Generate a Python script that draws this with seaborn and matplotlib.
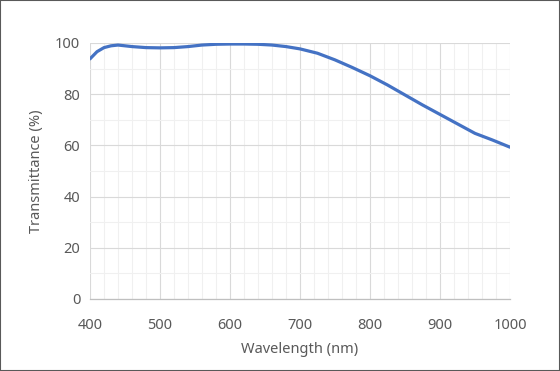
import numpy as np
import pandas as pd
import matplotlib
matplotlib.use("Agg")
import matplotlib.pyplot as plt
import seaborn as sns
from matplotlib.ticker import MultipleLocator
from matplotlib.patches import Rectangle

# valores
wavelength = [400, 410, 420, 430, 440, 450, 460, 480, 500, 520, 540, 560, 580, 600,
              620, 640, 660, 680, 700, 725, 750, 775, 800, 825, 850, 875, 900,
              925, 950, 975, 1000]
transmittance = [93.8, 96.6, 98.2, 98.9, 99.2, 98.9, 98.6, 98.2, 98.1, 98.2, 98.6, 99.2, 99.5, 99.6,
                 99.6, 99.5, 99.2, 98.6, 97.7, 96.0, 93.4, 90.4, 87.2, 83.6, 79.7, 75.8, 72.1,
                 68.4, 64.7, 62.1, 59.3]

sns.set_theme(style="white")
plt.rcParams["font.family"] = ["Noto Sans", "DejaVu Sans"]

df = pd.DataFrame({"wl": wavelength, "t": transmittance})

fig = plt.figure(figsize=(5.6, 3.71), dpi=100)
ax = fig.add_axes([90 / 560, 72 / 371, 420 / 560, 256 / 371])
sns.lineplot(data=df, x="wl", y="t", color="#4472C4", linewidth=2.3, ax=ax)

ax.set_xlim(400, 1000); ax.set_ylim(0, 100)
ax.xaxis.set_major_locator(MultipleLocator(100)); ax.xaxis.set_minor_locator(MultipleLocator(20))
ax.yaxis.set_major_locator(MultipleLocator(20)); ax.yaxis.set_minor_locator(MultipleLocator(10))
ax.grid(which="major", color="#d9d9d9", linewidth=0.8)
ax.grid(which="minor", color="#f0f0f0", linewidth=0.8)
ax.set_axisbelow(True)
for s in ["top", "right", "left"]:
    ax.spines[s].set_visible(False)
ax.spines["bottom"].set_color("#bfbfbf"); ax.spines["bottom"].set_linewidth(0.9)
ax.tick_params(which="both", length=0, colors="#595959", labelsize=10.5)
ax.tick_params(axis="x", pad=14)
ax.tick_params(axis="y", pad=7)
ax.set_xlabel("Wavelength (nm)", color="#595959", fontsize=10.5, labelpad=6)
ax.set_ylabel("Transmittance (%)", color="#595959", fontsize=10.5, labelpad=8)

fig.patches.append(Rectangle((0, 0), 1, 1, transform=fig.transFigure, fill=False,
                             edgecolor="#595959", linewidth=1.5))
fig.savefig("out.png", dpi=100)
